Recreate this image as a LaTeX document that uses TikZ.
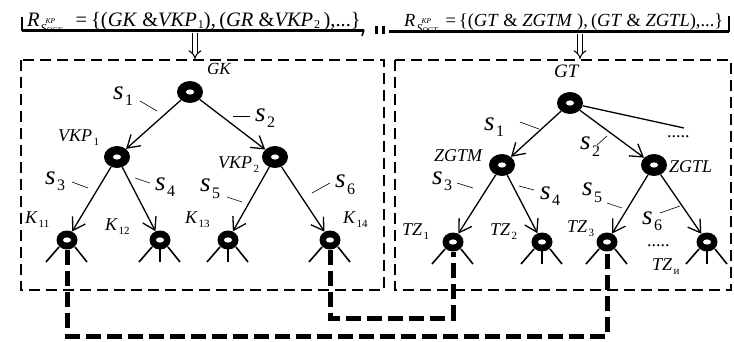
\documentclass[tikz,border=0pt]{standalone}
\usepackage{fontspec}
\setmainfont{Liberation Serif}
\usetikzlibrary{positioning,arrows.meta,shapes.geometric}

% labels
\newcommand{\sx}[1]{{\fontsize{27}{27}\selectfont\itshape s}\kern1.5pt\raisebox{-6pt}{\fontsize{16}{16}\selectfont #1}}
\newcommand{\nx}[2]{{\itshape #1}\kern1.5pt\raisebox{-4pt}{\fontsize{11}{11}\selectfont #2}}
\newcommand{\tx}[1]{\kern1pt\raisebox{-2pt}{\fontsize{12}{12}\selectfont #1}}
\newcommand{\rsub}[1]{\kern1pt\raisebox{-6pt}{\fontsize{12}{12}\selectfont\itshape S}\kern-1pt\rlap{\raisebox{3pt}{\fontsize{7.5}{7.5}\selectfont\itshape KP}}\kern1pt\raisebox{-6pt}{\fontsize{7.5}{7.5}\selectfont\itshape #1}}

\begin{document}
\begin{tikzpicture}[x=1pt,y=-1pt,node distance=60pt,on grid,
  vert/.style={ellipse,fill=black,minimum width=26pt,minimum height=22pt,inner sep=0pt,
    path picture={\fill[white] (path picture bounding box.center) ellipse (4pt and 2.6pt);}},
  leaf/.style={vert,minimum width=21pt,minimum height=19pt},
  arc/.style={line width=1.3pt,-{Straight Barb[length=12pt,width=15pt,line width=1.3pt]}},
  tick/.style={line width=0.6pt},
  antenna/.style={line width=1.6pt},
  frame/.style={line width=1.6pt,dash pattern=on 11pt off 6pt},
  link/.style={line width=5pt,dash pattern=on 15pt off 6pt},
  down/.style={double,double distance=3.5pt,line width=1pt,-{Implies}},
  lbl/.style={anchor=base west,inner sep=0pt,font=\fontsize{18}{18}\selectfont}]
   \useasboundingbox (0,0) rectangle (734,342);

   % relations
   \node[lbl,font=\fontsize{20.5}{20.5}\selectfont] (relL) at (27,27)
     {\textit{R}\rsub{OGK}\hspace{13pt}=\hspace{4pt}\{(\textit{GK} \&\textit{VKP}\tx{1}),\,(\textit{GR} \&\textit{VKP}\tx{2}\,),...\}};
   \node[lbl,font=\fontsize{18.5}{18.5}\selectfont] (relR) at (404,27)
     {\textit{R}\rsub{OGT}\hspace{8pt}=\hspace{3pt}\{(\textit{GT} \& \textit{ZGTM} ),\,(\textit{GT} \& \textit{ZGTL}),...\}};
   \draw[line width=2.8pt] (22,30.5) -- (364,30.5);
   \draw[line width=1.5pt] (22,17) -- (22,31);
   \draw[line width=1.5pt] (364,30) -- (362,36);
   \draw[line width=3pt] (376,26) -- (376,34) (383,26) -- (383,34);
   \draw[line width=2.8pt] (389,31.5) -- (729,31.5);
   \draw[line width=2pt] (729,32) -- (729,16);

   % frames
   \coordinate (outL) at (195,33);
   \coordinate (inL) at (195,59);
   \coordinate (outR) at (580,34);
   \coordinate (inR) at (580,59);
   \draw[frame] (21,60) rectangle (384,290);
   \draw[frame] (395,60) rectangle (731,290);
   \draw[down] (outL) -- (inL);
   \draw[down] (outR) -- (inR);

   % left tree
   \node[vert] (gk) at (190,92) {};
   \node[vert] (vkp1) [below left=65pt and 73pt of gk] {};
   \node[vert] (vkp2) [below right=65pt and 85pt of gk] {};
   \node[leaf] (k11) [below left=83pt and 50pt of vkp1] {};
   \node[leaf] (k12) [below right=83pt and 43pt of vkp1] {};
   \node[leaf] (k13) [below left=83pt and 47pt of vkp2] {};
   \node[leaf] (k14) [below right=83pt and 55pt of vkp2] {};
   \path (gk) edge[arc] (vkp1) edge[arc] (vkp2)
         (vkp1) edge[arc] (k11) edge[arc] (k12)
         (vkp2) edge[arc] (k13) edge[arc] (k14);

   % right tree
   \node[vert] (gt) at (570,103) {};
   \node[vert] (zgtm) [below left=62pt and 68pt of gt] {};
   \node[vert] (zgtl) [below right=62pt and 84pt of gt] {};
   \node[leaf] (tz1) [below left=77pt and 49pt of zgtm] {};
   \node[leaf] (tz2) [below right=77pt and 40pt of zgtm] {};
   \node[leaf] (tz3) [below left=77pt and 47pt of zgtl] {};
   \node[leaf] (tzn) [below right=77pt and 53pt of zgtl] {};
   \coordinate (more) at (684,128);
   \path (gt) edge[arc] (zgtm) edge[arc] (zgtl)
         (zgtm) edge[arc] (tz1) edge[arc] (tz2)
         (zgtl) edge[arc] (tz3) edge[arc] (tzn);
   \draw[line width=1.3pt] (gt) -- (more);

   % leaf legs
   \foreach \v in {k11,k12,k13,k14,tz1,tz2,tz3,tzn} {
     \draw[antenna] (\v.center) ++(-8,7) -- ++(-13,15);
     \draw[antenna] (\v.center) ++(8,7) -- ++(12,15);
   }
   \foreach \v in {k12,k13,tz2,tzn}
     \draw[antenna] (\v.center) ++(0,9) -- ++(0,13);

   % node names
   \node[lbl,font=\fontsize{17}{17}\selectfont] (lgk) at (207,75) {\textit{GK}};
   \node[lbl] (lvkp1) at (58,142) {\nx{VKP}{1}};
   \node[lbl] (lvkp2) at (218,168) {\nx{VKP}{2}};
   \node[lbl] (lk11) at (25,223) {\nx{K}{11}};
   \node[lbl] (lk12) at (105,230) {\nx{K}{12}};
   \node[lbl] (lk13) at (185,223) {\nx{K}{13}};
   \node[lbl] (lk14) at (343,223) {\nx{K}{14}};
   \node[lbl,font=\fontsize{19}{19}\selectfont] (lgt) at (554,78) {\textit{GT}};
   \node[lbl] (lzgtm) at (434,162) {\textit{ZGTM}};
   \node[lbl] (lzgtl) at (669,172) {\textit{ZGTL}};
   \node[lbl] (ltz1) at (402,235) {\nx{TZ}{1}};
   \node[lbl] (ltz2) at (490,235) {\nx{TZ}{2}};
   \node[lbl] (ltz3) at (567,233) {\nx{TZ}{3}};
   \node[lbl] (ltzn) at (652,270) {\nx{TZ}{и}};
   \node[lbl] (dots1) at (667,138) {.....};
   \node[lbl] (dots2) at (647,246) {.....};

   % arc names
   \node[lbl] (ls1) at (113,100) {\sx{1}};
   \node[lbl] (ls2) at (255,122) {\sx{2}};
   \node[lbl] (ls3) at (45,185) {\sx{3}};
   \node[lbl] (ls4) at (155,190) {\sx{4}};
   \node[lbl] (ls5) at (200,192) {\sx{5}};
   \node[lbl] (ls6) at (335,188) {\sx{6}};
   \draw[tick] (140,101) -- (157,111);
   \draw[tick] (233,116) -- (250,116);
   \draw[tick] (72,182) -- (88,188);
   \draw[tick] (135,178) -- (150,183);
   \draw[tick] (227,197) -- (242,202);
   \draw[tick] (312,193) -- (330,183);
   \node[lbl] (rs1) at (484,131) {\sx{1}};
   \node[lbl] (rs2) at (580,150) {\sx{2}};
   \node[lbl] (rs3) at (432,185) {\sx{3}};
   \node[lbl] (rs4) at (540,200) {\sx{4}};
   \node[lbl] (rs5) at (582,196) {\sx{5}};
   \node[lbl] (rs6) at (642,224) {\sx{6}};
   \draw[tick] (520,122) -- (539,129);
   \draw[tick] (597,145) -- (607,136);
   \draw[tick] (457,183) -- (473,188);
   \draw[tick] (519,186) -- (534,190);
   \draw[tick] (607,203) -- (622,208);
   \draw[tick] (660,213) -- (680,206);

   % links between trees
   \coordinate (c1) at (67,336);
   \coordinate (c2) at (330,318);
   \draw[link] (k11.south) -- (c1) -| (tz3.south);
   \draw[link] (k14.south) -- (c2) -| (tz1.south);
\end{tikzpicture}
\end{document}
